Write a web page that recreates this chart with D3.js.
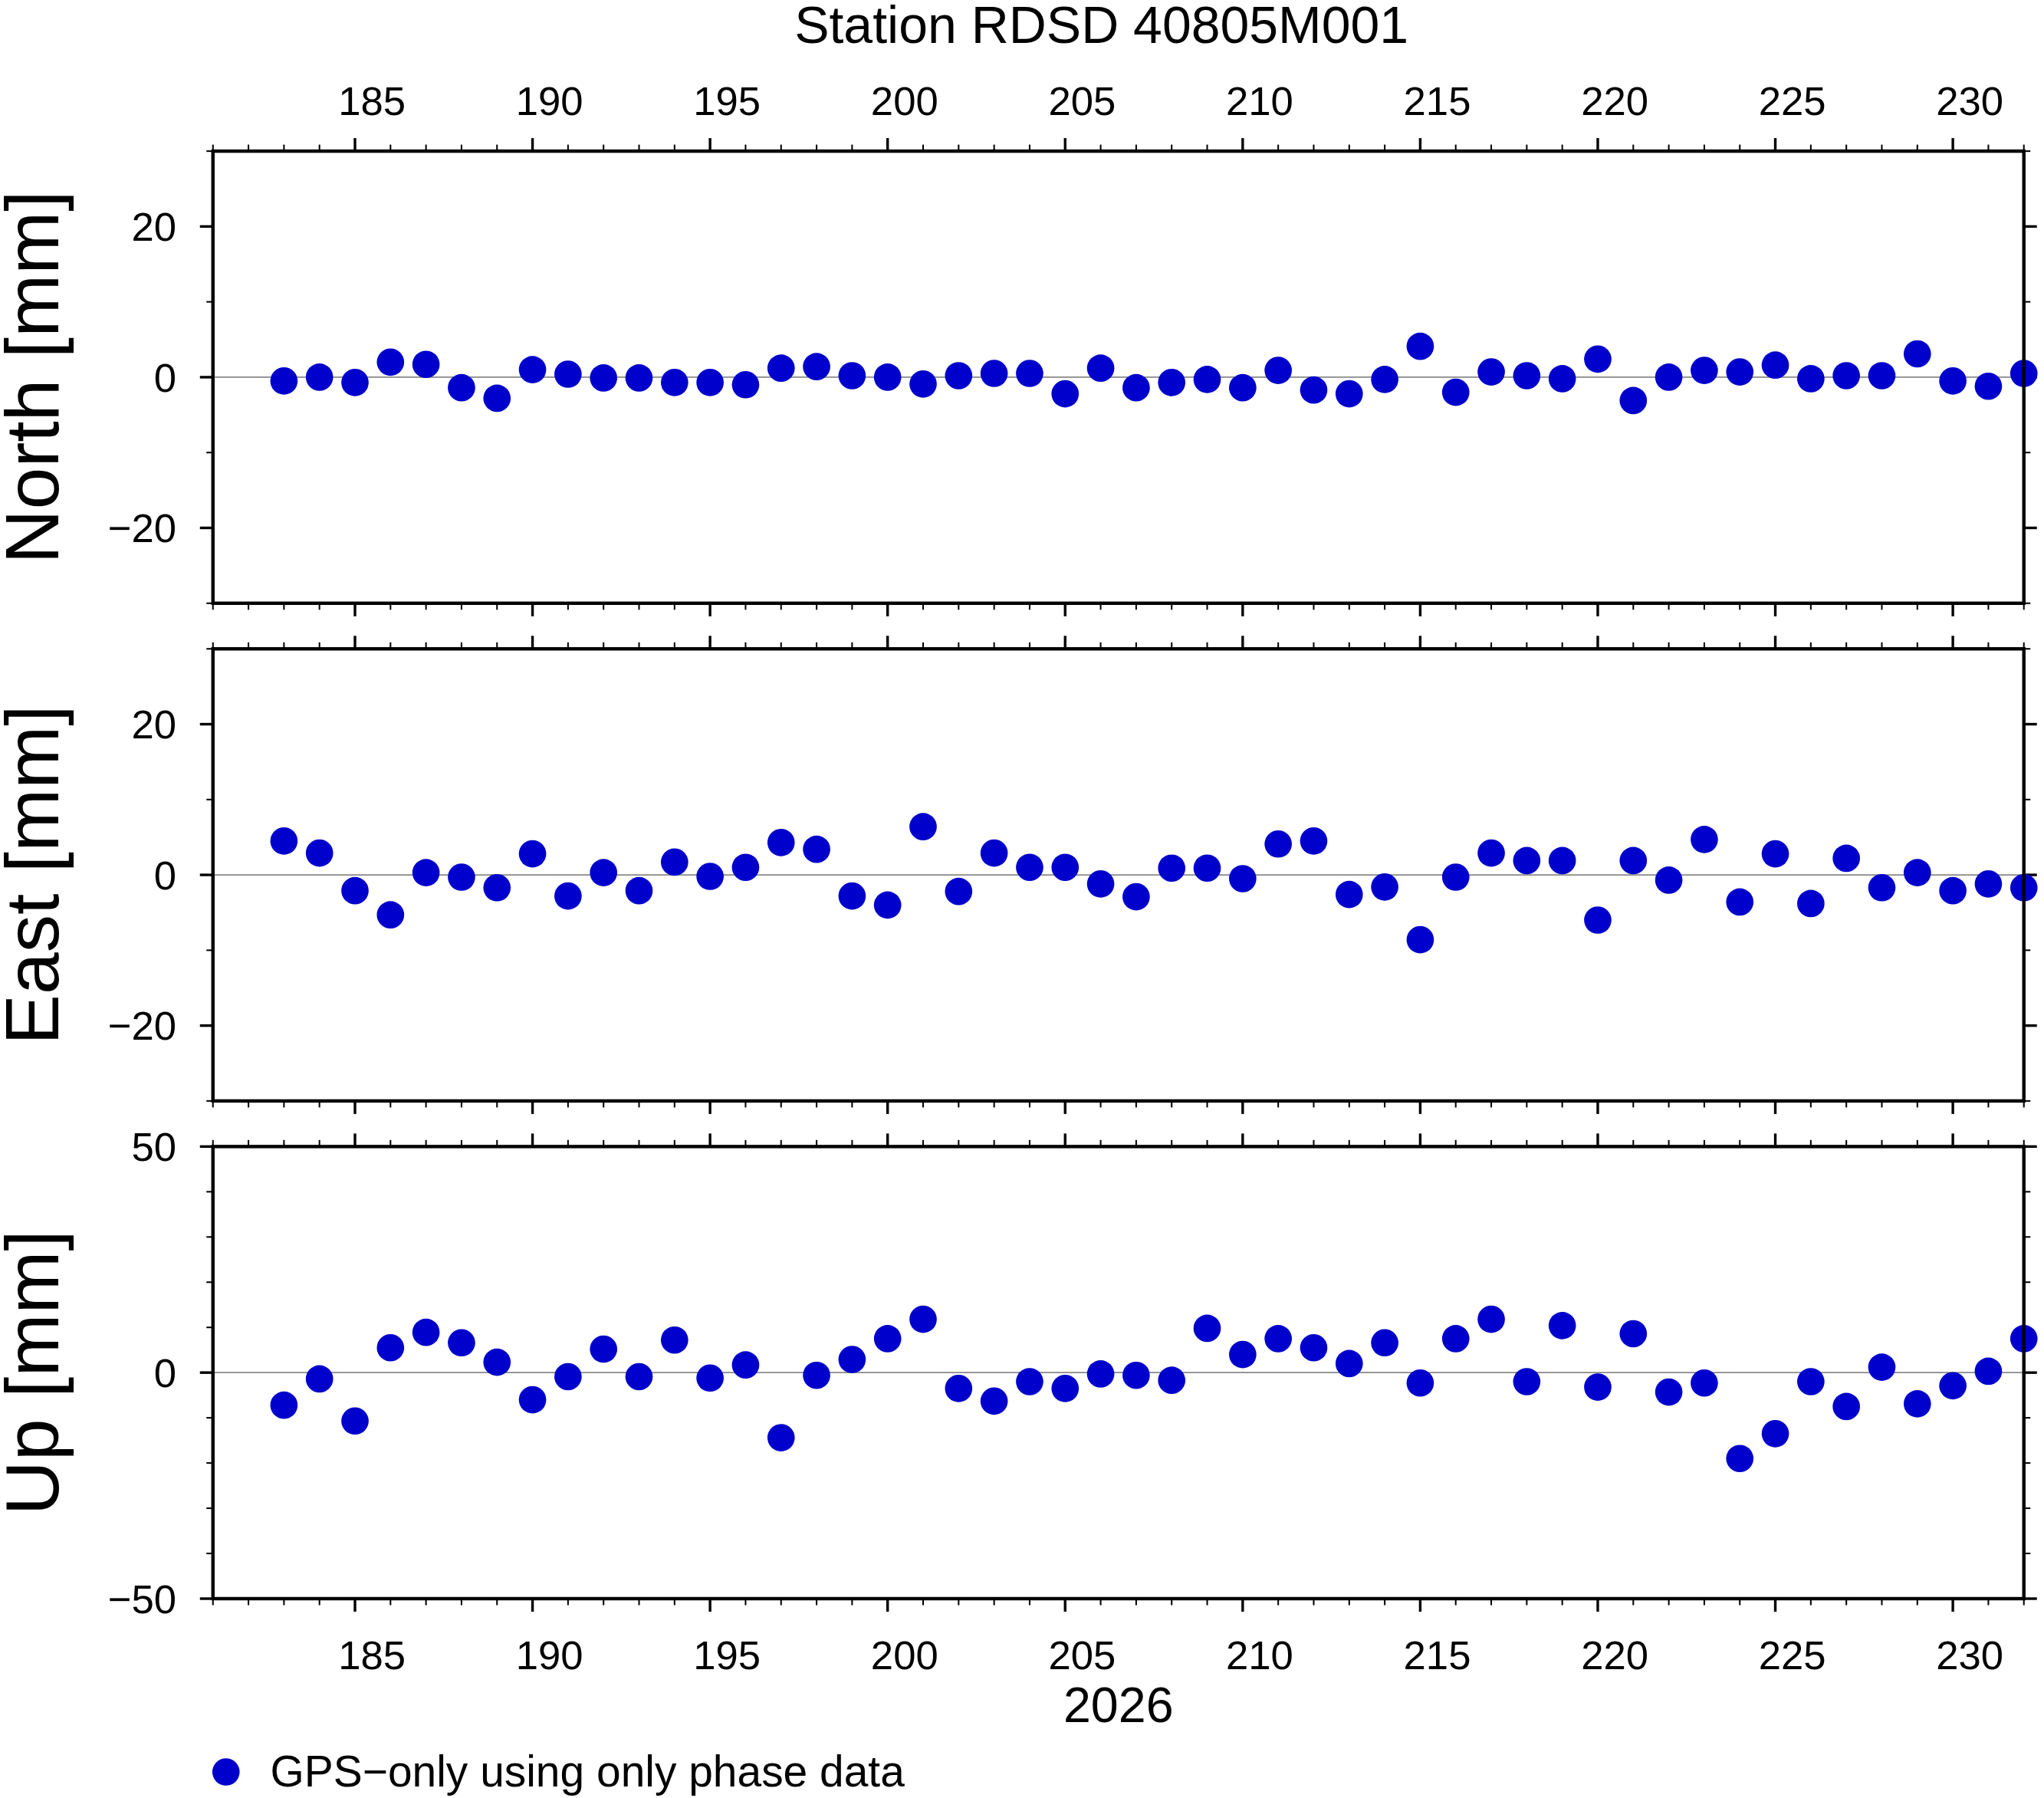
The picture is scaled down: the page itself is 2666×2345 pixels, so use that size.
<!DOCTYPE html>
<html><head><meta charset="utf-8">
<script src="https://cdn.jsdelivr.net/npm/d3@7"></script>
<style>body{margin:0;background:#fff}text{font-family:"Liberation Sans",Arial,sans-serif}</style>
</head><body>
<script>
const days = d3.range(183, 233);
const north = [-0.5,0,-0.7,2,1.7,-1.4,-2.8,1,0.4,-0.1,-0.1,-0.7,-0.7,-1,1.2,1.4,0.2,0,-0.9,0.2,0.5,0.5,-2.2,1.2,-1.4,-0.7,-0.3,-1.4,0.9,-1.7,-2.2,-0.3,4.1,-2,0.7,0.2,-0.2,2.4,-3.1,0,0.9,0.7,1.6,-0.2,0.2,0.2,3.1,-0.5,-1.2,0.5];
const east = [4.5,2.9,-2.1,-5.3,0.3,-0.3,-1.7,2.8,-2.8,0.3,-2.1,1.7,-0.2,1,4.3,3.4,-2.8,-4,6.4,-2.2,2.9,1,1,-1.2,-2.9,0.9,0.9,-0.5,4.1,4.5,-2.6,-1.6,-8.6,-0.3,2.9,1.9,1.9,-6,1.9,-0.7,4.7,-3.6,2.8,-3.8,2.2,-1.7,0.3,-2.1,-1.2,-1.7];
const up = [-7.2,-1.4,-10.7,5.5,8.9,6.6,2.3,-6,-0.9,5.2,-0.9,7.2,-1.2,1.7,-14.4,-0.6,2.9,7.5,11.8,-3.5,-6.3,-2,-3.5,-0.3,-0.6,-1.7,9.8,4,7.5,5.5,2,6.6,-2.3,7.5,11.8,-2,10.4,-3.2,8.6,-4.3,-2.3,-19,-13.5,-2,-7.5,1.2,-6.9,-2.9,0.3,7.5];
const xTicks = [185,190,195,200,205,210,215,220,225,230];
const panels = [
  {name:"North [mm]", vals:north, dom:[-30,30], major:[-20,0,20], minor:d3.range(-30,31,10), top:116},
  {name:"East [mm]", vals:east, dom:[-30,30], major:[-20,0,20], minor:d3.range(-30,31,10), top:498},
  {name:"Up [mm]", vals:up, dom:[-50,50], major:[-50,0,50], minor:d3.range(-50,51,10), top:880}
];
const W=1568,H=1380,L=163,R=1553,PH=347;
const svg=d3.select("body").append("svg").attr("width",2666).attr("height",2345).attr("viewBox",`0 0 ${W} ${H}`);
const x=d3.scaleLinear().domain([181,232]).range([L,R]);
const blue="#0000cc";
svg.append("text").attr("x",845).attr("y",33).attr("text-anchor","middle").attr("font-size",40).text("Station RDSD 40805M001");
panels.forEach((p,i)=>{
  const y=d3.scaleLinear().domain(p.dom).range([p.top+PH,p.top]);
  const g=svg.append("g");
  g.append("line").attr("x1",L).attr("x2",R).attr("y1",y(0)).attr("y2",y(0)).attr("stroke","#888").attr("stroke-width",1);
  [p.top, p.top+PH].forEach((yy,k)=>{
    const dir = k===0?-1:1;
    d3.range(181,233).forEach(d=>{
      const maj = d%5===0;
      g.append("line").attr("x1",x(d)).attr("x2",x(d)).attr("y1",yy).attr("y2",yy+dir*(maj?10:5)).attr("stroke","#000").attr("stroke-width",maj?2:1.2);
    });
  });
  [L,R].forEach((xx,k)=>{
    const dir=k===0?-1:1;
    p.minor.forEach(v=>{
      const maj=p.major.includes(v);
      g.append("line").attr("x1",xx).attr("x2",xx+dir*(maj?10:5)).attr("y1",y(v)).attr("y2",y(v)).attr("stroke","#000").attr("stroke-width",maj?2:1.2);
    });
  });
  p.major.forEach(v=>{
    g.append("text").attr("x",135).attr("y",y(v)+11).attr("text-anchor","end").attr("font-size",31).text(v<0?"\u2212"+(-v):v);
  });
  g.append("text").attr("transform",`translate(44,${p.top+PH/2}) rotate(-90)`).attr("text-anchor","middle").attr("font-size",58).text(p.name);
  g.selectAll("circle").data(days).join("circle").attr("cx",d=>x(d)).attr("cy",(d,j)=>y(p.vals[j])).attr("r",10.5).attr("fill",blue);
  g.append("rect").attr("x",L).attr("y",p.top).attr("width",R-L).attr("height",PH).attr("fill","none").attr("stroke","#000").attr("stroke-width",2.6);
});
xTicks.forEach(d=>{
  svg.append("text").attr("x",x(d)+13).attr("y",88).attr("text-anchor","middle").attr("font-size",31).text(d);
  svg.append("text").attr("x",x(d)+13).attr("y",1281).attr("text-anchor","middle").attr("font-size",31).text(d);
});
svg.append("text").attr("x",858).attr("y",1322).attr("text-anchor","middle").attr("font-size",38).text("2026");
svg.append("circle").attr("cx",173).attr("cy",1360).attr("r",10.5).attr("fill",blue);
svg.append("text").attr("x",207).attr("y",1371).attr("font-size",33.5).text("GPS\u2212only using only phase data");
</script>
</body></html>
